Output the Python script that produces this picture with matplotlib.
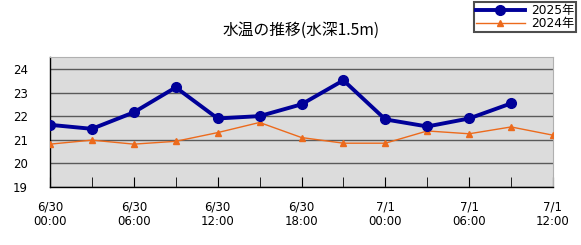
import numpy as np
from matplotlib import pyplot as plt

plt.rcParams['font.family'] = ['DejaVu Sans', 'Noto Sans CJK JP']

# hours since 6/30 00:00, every 3 hours
hours_2025 = [0, 3, 6, 9, 12, 15, 18, 21, 24, 27, 30, 33]
temp_2025 = [21.64, 21.47, 22.17, 23.23, 21.91, 22.01, 22.51, 23.53, 21.87, 21.57, 21.91, 22.55]
hours_2024 = [0, 3, 6, 9, 12, 15, 18, 21, 24, 27, 30, 33, 36]
temp_2024 = [20.82, 20.99, 20.82, 20.94, 21.31, 21.74, 21.10, 20.86, 20.86, 21.38, 21.26, 21.55, 21.20]

tick_hours = [0, 6, 12, 18, 24, 30, 36]
tick_labels = ["6/30\n00:00", "6/30\n06:00", "6/30\n12:00", "6/30\n18:00",
               "7/1\n00:00", "7/1\n06:00", "7/1\n12:00"]
minor_hours = [3, 9, 15, 21, 27, 33]
y_ticks = [19, 20, 21, 22, 23, 24]

fig = plt.figure(figsize=(5.81, 2.45), dpi=100)
ax = fig.add_axes([50 / 581, 58 / 245, 503 / 581, 130 / 245])
ax.set_facecolor('#dcdcdc')

ax.plot(hours_2025, temp_2025, color='#000099', lw=2.8, marker='o', ms=7, label='2025年', zorder=4)
ax.plot(hours_2024, temp_2024, color='#ec6a1c', lw=1.0, marker='^', ms=5, label='2024年', zorder=3)

ax.set_xlim(0, 36)
ax.set_ylim(19, 24.52)
ax.set_xticks(tick_hours)
ax.set_xticklabels(tick_labels, fontsize=8.5, linespacing=1.1)
ax.set_xticks(minor_hours, minor=True)
ax.set_yticks(y_ticks)
ax.set_yticklabels([str(v) for v in y_ticks], fontsize=8.5)
ax.tick_params(axis='x', which='both', direction='in', length=7, color='black', pad=10)
ax.tick_params(axis='y', length=0, pad=16)
ax.grid(axis='y', color='#5a5a5a', lw=1.0, zorder=1)
ax.set_axisbelow(True)

for s in ['top', 'right']:
    ax.spines[s].set_color('#b0b0b0')
for s in ['left', 'bottom']:
    ax.spines[s].set_color('black')
    ax.spines[s].set_linewidth(1.0)

fig.text(301 / 581, 1 - 30 / 245, '水温の推移(水深1.5m)', ha='center', va='center',
         fontsize=11.3, family=['Noto Sans CJK JP', 'DejaVu Sans'])

leg = fig.legend(loc='upper right', bbox_to_anchor=(576 / 581, 1 - 2 / 245),
                 frameon=True, fancybox=False, edgecolor='#222222', handlelength=4.0,
                 borderpad=0.15, labelspacing=0.0, handletextpad=0.5, borderaxespad=0,
                 prop={'family': ['DejaVu Sans', 'Noto Sans CJK JP'], 'size': 8.8})
leg.get_frame().set_linewidth(1.5)

fig.savefig('out.png', dpi=100)
